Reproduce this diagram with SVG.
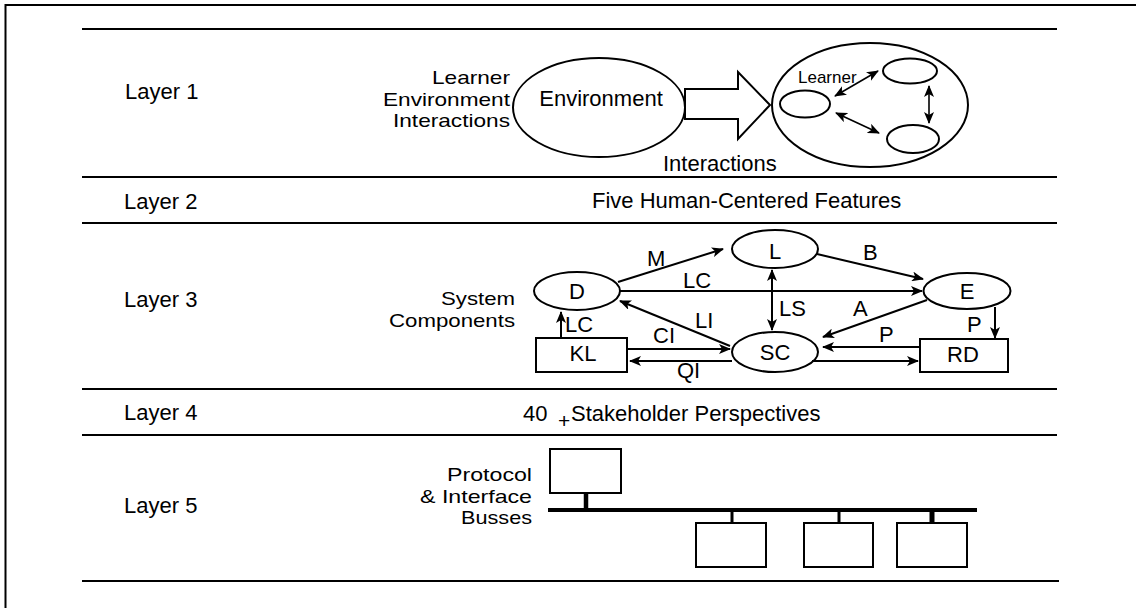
<svg xmlns="http://www.w3.org/2000/svg" width="1136" height="608" viewBox="0 0 1136 608">
<style>
  text { font-family: "Liberation Sans", Arial, sans-serif; font-size: 22px; fill: #000; }
  .small { font-size: 17px; }
  .cap { font-size: 19px; text-anchor: end; }
  .mid { text-anchor: middle; }
  .rule { stroke: #000; stroke-width: 2; fill: none; }
  .shape { stroke: #000; stroke-width: 2; fill: #fff; }
  .conn { stroke: #000; stroke-width: 2; fill: none; }
  .thin { stroke: #000; stroke-width: 1.6; fill: none; }
  .bus { stroke: #000; fill: none; }
</style>
<defs>
  <marker id="ah" viewBox="0 0 12 10" refX="11" refY="5" markerWidth="12" markerHeight="10" markerUnits="userSpaceOnUse" orient="auto-start-reverse">
    <path d="M0,0 L12,5 L0,10 L3,5 z" fill="#000"/>
  </marker>
</defs>
<rect width="1136" height="608" fill="#fff"/>

<g id="frame">
  <path class="rule" d="M5.5,608 V5 H1136"/>
  <line class="rule" x1="82" y1="29" x2="1057" y2="29"/>
  <line class="rule" x1="82" y1="177" x2="1057" y2="177"/>
  <line class="rule" x1="82" y1="223" x2="1057" y2="223"/>
  <line class="rule" x1="82" y1="389" x2="1057" y2="389"/>
  <line class="rule" x1="82" y1="435" x2="1057" y2="435"/>
  <line class="rule" x1="82" y1="581" x2="1059" y2="581"/>
</g>

<g id="layer-labels">
  <text x="125" y="99">Layer 1</text>
  <text x="124" y="209">Layer 2</text>
  <text x="124" y="307">Layer 3</text>
  <text x="124" y="420">Layer 4</text>
  <text x="124" y="513">Layer 5</text>
</g>

<!-- Layer 1 -->
<g id="l1-caption">
  <text class="cap" x="510" y="84" textLength="78" lengthAdjust="spacingAndGlyphs">Learner</text>
  <text class="cap" x="510" y="105.5" textLength="127" lengthAdjust="spacingAndGlyphs">Environment</text>
  <text class="cap" x="510" y="127" textLength="117" lengthAdjust="spacingAndGlyphs">Interactions</text>
</g>
<g id="l1-environment">
  <ellipse class="shape" cx="599" cy="107.5" rx="86" ry="49.5"/>
  <text class="mid" x="601" y="106">Environment</text>
</g>
<g id="l1-block-arrow">
  <polygon class="shape" points="685,89 738,89 738,72 770,105 738,139 738,119 685,119"/>
  <text x="663" y="171">Interactions</text>
</g>
<g id="l1-learners">
  <ellipse class="shape" cx="870" cy="105" rx="98" ry="62"/>
  <text class="small" x="798" y="83">Learner</text>
  <ellipse class="shape" cx="805" cy="104" rx="25" ry="13.5"/>
  <ellipse class="shape" cx="910" cy="71" rx="27" ry="12.5"/>
  <ellipse class="shape" cx="913" cy="139" rx="26" ry="14"/>
</g>

<!-- Layer 2 -->
<g id="l2-features">
  <text x="592" y="208">Five Human-Centered Features</text>
</g>

<!-- Layer 3 -->
<g id="l3-caption">
  <text class="cap" x="515" y="305" textLength="74" lengthAdjust="spacingAndGlyphs">System</text>
  <text class="cap" x="515" y="326.5" textLength="126" lengthAdjust="spacingAndGlyphs">Components</text>
</g>
<g id="node-D">
  <ellipse class="shape" cx="577" cy="291" rx="43" ry="19"/>
  <text class="mid" x="577" y="299">D</text>
</g>
<g id="node-L">
  <ellipse class="shape" cx="775" cy="249" rx="43" ry="19"/>
  <text class="mid" x="775" y="259">L</text>
</g>
<g id="node-E">
  <ellipse class="shape" cx="967" cy="291" rx="43.5" ry="18"/>
  <text class="mid" x="967" y="299">E</text>
</g>
<g id="node-SC">
  <ellipse class="shape" cx="775" cy="352" rx="43" ry="20"/>
  <text class="mid" x="775" y="360">SC</text>
</g>
<g id="node-KL">
  <rect class="shape" x="536" y="338" width="91" height="34"/>
  <text class="mid" x="583" y="361">KL</text>
</g>
<g id="node-RD">
  <rect class="shape" x="920" y="339" width="88" height="33"/>
  <text class="mid" x="963" y="362">RD</text>
</g>

<!-- Layer 4 -->
<g id="l4-stakeholders">
  <text x="523" y="421">40</text>
  <text x="558" y="427.5" style="font-size:21px">+</text>
  <text x="571" y="421">Stakeholder Perspectives</text>
</g>

<!-- Layer 5 -->
<g id="l5-caption">
  <text class="cap" x="532" y="481" textLength="85" lengthAdjust="spacingAndGlyphs">Protocol</text>
  <text class="cap" x="532" y="502.5" textLength="112" lengthAdjust="spacingAndGlyphs">&amp; Interface</text>
  <text class="cap" x="532" y="524" textLength="71" lengthAdjust="spacingAndGlyphs">Busses</text>
</g>
<g id="bus-node-1"><rect class="shape" x="550" y="449" width="71" height="44"/></g>
<g id="bus-node-2"><rect class="shape" x="696" y="523" width="70" height="44"/></g>
<g id="bus-node-3"><rect class="shape" x="804" y="523" width="69" height="44"/></g>
<g id="bus-node-4"><rect class="shape" x="897" y="523" width="70" height="44"/></g>

<g id="connectors">
  <!-- layer 1 learner interactions -->
  <line class="thin" x1="835" y1="96" x2="878" y2="71" marker-start="url(#ah)" marker-end="url(#ah)"/>
  <line class="thin" x1="836" y1="113" x2="879" y2="133" marker-start="url(#ah)" marker-end="url(#ah)"/>
  <line class="thin" x1="929" y1="86" x2="929" y2="123" marker-start="url(#ah)" marker-end="url(#ah)"/>

  <!-- layer 3 -->
  <line class="conn" x1="618" y1="282" x2="723" y2="249" marker-end="url(#ah)"/>
  <text x="647" y="266">M</text>
  <line class="conn" x1="817" y1="254" x2="923" y2="279" marker-end="url(#ah)"/>
  <text x="863" y="260">B</text>
  <line class="conn" x1="620" y1="291" x2="922" y2="291" marker-end="url(#ah)"/>
  <text x="683" y="288">LC</text>
  <line class="conn" x1="772" y1="270" x2="772" y2="330" marker-start="url(#ah)" marker-end="url(#ah)"/>
  <text x="779" y="316">LS</text>
  <line class="conn" x1="927" y1="300" x2="823" y2="337" marker-end="url(#ah)"/>
  <text x="853" y="316">A</text>
  <line class="conn" x1="730" y1="346" x2="620" y2="301" marker-end="url(#ah)"/>
  <text x="695" y="328">LI</text>
  <line class="conn" x1="561" y1="338" x2="561" y2="312" marker-end="url(#ah)"/>
  <text x="565" y="332">LC</text>
  <line class="conn" x1="627" y1="349" x2="730" y2="349" marker-end="url(#ah)"/>
  <text x="653" y="343">CI</text>
  <line class="conn" x1="732" y1="361" x2="630" y2="361" marker-end="url(#ah)"/>
  <text x="677" y="378">QI</text>
  <line class="conn" x1="920" y1="347" x2="823" y2="347" marker-end="url(#ah)"/>
  <text x="879" y="342">P</text>
  <line class="conn" x1="812" y1="361" x2="918" y2="361" marker-end="url(#ah)"/>
  <line class="conn" x1="995" y1="307" x2="995" y2="338" marker-end="url(#ah)"/>
  <text x="967" y="332">P</text>

  <!-- layer 5 bus -->
  <line class="bus" x1="548" y1="510" x2="977" y2="510" stroke-width="4"/>
  <line class="bus" x1="586" y1="493" x2="586" y2="510" stroke-width="4.5"/>
  <line class="bus" x1="732" y1="510" x2="732" y2="523" stroke-width="3"/>
  <line class="bus" x1="839" y1="510" x2="839" y2="523" stroke-width="3"/>
  <line class="bus" x1="932" y1="510" x2="932" y2="523" stroke-width="5"/>
</g>
</svg>
